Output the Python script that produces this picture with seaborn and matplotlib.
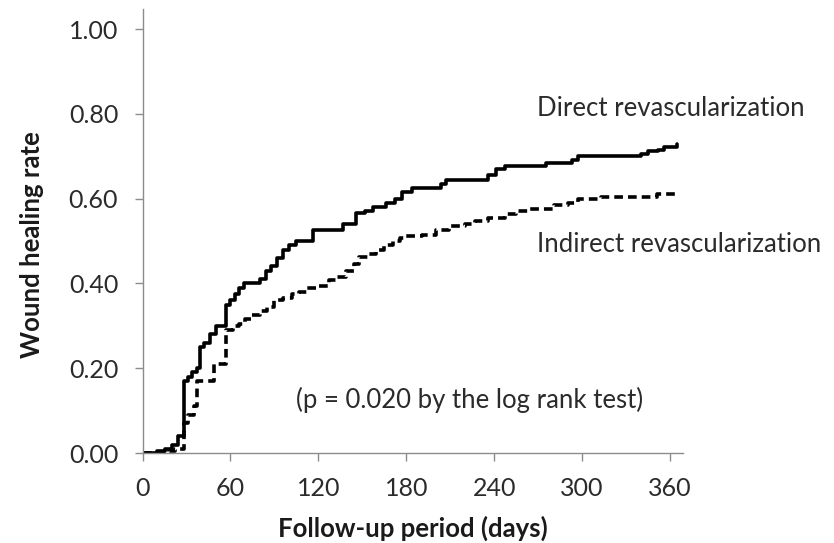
import matplotlib
matplotlib.use("Agg")
import matplotlib.pyplot as plt
import seaborn as sns
import pandas as pd
from matplotlib.ticker import FormatStrFormatter

direct_days = [0, 10, 15, 20, 24, 28, 31, 34, 37, 39, 42, 46, 50, 57, 60, 63, 66, 69, 80, 84, 88,
               92, 96, 100, 105, 116, 137, 146, 152, 157, 166, 172, 177, 184, 204, 207, 236, 241,
               247, 275, 293, 297, 340, 345, 352, 356, 365]
direct_rate = [0.0, 0.005, 0.01, 0.02, 0.04, 0.17, 0.18, 0.19, 0.20, 0.25, 0.26, 0.28, 0.30, 0.35,
               0.36, 0.375, 0.39, 0.40, 0.41, 0.43, 0.44, 0.46, 0.48, 0.49, 0.50, 0.525, 0.54, 0.565,
               0.57, 0.58, 0.59, 0.60, 0.615, 0.625, 0.635, 0.645, 0.655, 0.67, 0.678, 0.683, 0.69,
               0.70, 0.705, 0.712, 0.715, 0.722, 0.729]

indirect_days = [0, 18, 22, 28, 31, 35, 37, 49, 57, 62, 66, 70, 75, 80, 85, 90, 96, 102, 107, 112,
                 120, 127, 133, 139, 144, 148, 154, 159, 165, 171, 176, 180, 191, 200, 209, 220,
                 227, 236, 247, 255, 263, 281, 290, 297, 313, 351, 363, 365]
indirect_rate = [0.0, 0.005, 0.01, 0.07, 0.09, 0.11, 0.17, 0.21, 0.29, 0.30, 0.305, 0.315, 0.325,
                 0.335, 0.345, 0.36, 0.365, 0.375, 0.38, 0.39, 0.395, 0.407, 0.415, 0.43, 0.445,
                 0.462, 0.47, 0.478, 0.49, 0.50, 0.508, 0.513, 0.515, 0.525, 0.535, 0.54, 0.548,
                 0.555, 0.564, 0.57, 0.576, 0.584, 0.59, 0.60, 0.605, 0.61, 0.615, 0.615]

x_ticks = [0, 60, 120, 180, 240, 300, 360]
y_ticks = [0.0, 0.2, 0.4, 0.6, 0.8, 1.0]

sns.set_theme(style="white")
plt.rcParams['font.family'] = ['Lato', 'DejaVu Sans']

fig = plt.figure(figsize=(8.34, 5.43), dpi=100)
ax = fig.add_axes([0.1709, 0.1657, 0.8193 - 0.1709, 0.984 - 0.1657])

df_d = pd.DataFrame({"day": direct_days, "rate": direct_rate})
df_i = pd.DataFrame({"day": indirect_days, "rate": indirect_rate})

sns.lineplot(data=df_d, x="day", y="rate", ax=ax, color="black", linewidth=2.6,
             drawstyle="steps-post", estimator=None, sort=False)
sns.lineplot(data=df_i, x="day", y="rate", ax=ax, color="black", linewidth=2.6,
             drawstyle="steps-post", estimator=None, sort=False)
ax.lines[-1].set_linestyle((0, (2.4, 1.4)))

ax.set_xlim(0, 369)
ax.set_ylim(0, 1.048)
ax.set_xticks(x_ticks)
ax.set_yticks(y_ticks)
ax.yaxis.set_major_formatter(FormatStrFormatter('%.2f'))

for s in ["top", "right"]:
    ax.spines[s].set_visible(False)
for s in ["left", "bottom"]:
    ax.spines[s].set_color("#8c8c8c")
    ax.spines[s].set_linewidth(1.0)

ax.tick_params(axis="both", which="major", direction="out", length=5.5, width=1.0,
               color="#8c8c8c", labelsize=18, labelcolor="#2b2b2b", pad=12,
               bottom=True, left=True)

ax.set_xlabel("Follow-up period (days)", fontsize=18.5, fontweight="bold", color="#1a1a1a", labelpad=11)
ax.set_ylabel("Wound healing rate", fontsize=18.5, fontweight="bold", color="#1a1a1a", labelpad=18)
ax.yaxis.label.set_y(0.47)

ax.text(269.5, 0.812, "Direct revascularization", fontsize=18.5, color="#2b2b2b", va="center", ha="left")
ax.text(269.5, 0.492, "Indirect revascularization", fontsize=18.5, color="#2b2b2b", va="center", ha="left")
ax.text(104.5, 0.125, "(p = 0.020 by the log rank test)", fontsize=18.5, color="#2b2b2b", va="center", ha="left")

fig.savefig("out.png", dpi=100, facecolor="white")
